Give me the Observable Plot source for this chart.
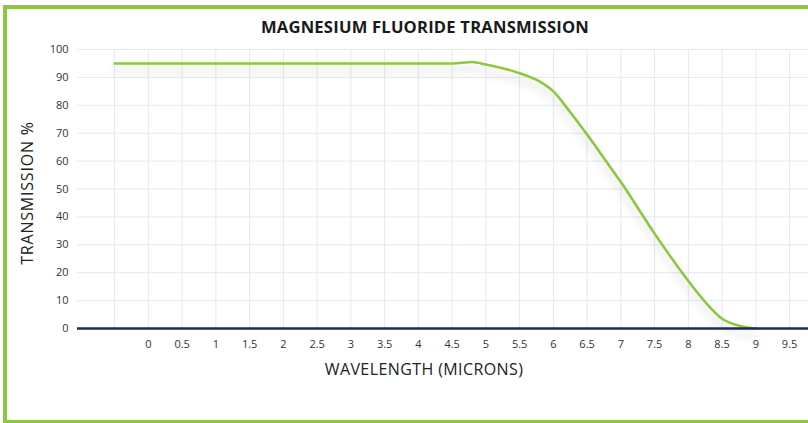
<!DOCTYPE html>
<html><head><meta charset="utf-8">
<script src="https://cdn.jsdelivr.net/npm/d3@7"></script>
<script src="https://cdn.jsdelivr.net/npm/@observablehq/plot@0.6"></script>
<style>
html,body{margin:0;padding:0;background:#fff;}
#wrap{position:relative;width:808px;height:423px;overflow:hidden;font-family:"Open Sans",sans-serif;background:#fff;}
#frame{position:absolute;left:3px;top:5px;width:840px;height:419px;border:4px solid #8dc63f;box-sizing:border-box;}
#plot{position:absolute;left:0;top:0;}
#title{position:absolute;left:0;width:850px;top:18px;text-align:center;font-weight:700;font-size:16.6px;line-height:18px;color:#1a1a1a;letter-spacing:0.2px;}
#xtitle{position:absolute;left:0;width:848px;top:360px;text-align:center;font-size:16px;line-height:18px;color:#222;letter-spacing:0.4px;}
#ytitle{position:absolute;left:-73px;width:200px;top:184px;text-align:center;font-size:16px;line-height:18px;color:#222;transform:rotate(-90deg);letter-spacing:0.8px;}
g[aria-label="line"] path{filter:drop-shadow(0px 7px 4px rgba(0,0,0,0.16));}
</style>
</head><body>
<div id="wrap">
  <div id="frame"></div>
  <div id="plot"></div>
  <div id="title">MAGNESIUM FLUORIDE TRANSMISSION</div>
  <div id="xtitle">WAVELENGTH (MICRONS)</div>
  <div id="ytitle">TRANSMISSION %</div>
</div>
<script>
// Data
const wavelength = [-0.5, 4.5, 4.8, 5.0, 5.5, 5.8, 6.0, 6.25, 6.5, 6.75, 7.0, 7.5, 8.0, 8.25, 8.5, 8.75, 9.0];
const transmission = [95, 95, 95.5, 94.6, 91.5, 88.5, 85, 77.5, 69.5, 61, 52.5, 34, 17, 9.5, 3.5, 1, 0];
const xTickValues = [0, 0.5, 1, 1.5, 2, 2.5, 3, 3.5, 4, 4.5, 5, 5.5, 6, 6.5, 7, 7.5, 8, 8.5, 9, 9.5];
const xGridValues = [-0.5, 0, 0.5, 1, 1.5, 2, 2.5, 3, 3.5, 4, 4.5, 5, 5.5, 6, 6.5, 7, 7.5, 8, 8.5, 9, 9.5];
const yTickValues = [0, 10, 20, 30, 40, 50, 60, 70, 80, 90, 100];
const yGridValues = [10, 20, 30, 40, 50, 60, 70, 80, 90, 100];

const data = wavelength.map((w, i) => ({w, t: transmission[i]}));

const chart = Plot.plot({
  width: 808,
  height: 423,
  marginLeft: 77,
  marginRight: 0,
  marginTop: 49,
  marginBottom: 95,
  style: {fontFamily: "'Open Sans', sans-serif", fontSize: "11px", color: "#333", background: "transparent", overflow: "visible"},
  x: {domain: [-1.05, 9.78], ticks: xTickValues, tickFormat: d => `${d}`, tickSize: 0, tickPadding: 12, label: null},
  y: {domain: [0, 100], ticks: yTickValues, tickFormat: d => `${d}`, tickSize: 0, tickPadding: 9, label: null},
  marks: [
    Plot.ruleY(yGridValues, {stroke: "#e4e8f0", strokeWidth: 1}),
    Plot.ruleX(xGridValues, {y1: 0, y2: 100, stroke: "#e4e8f0", strokeWidth: 1}),
    Plot.line(data, {x: "w", y: "t", stroke: "#8dc63f", strokeWidth: 2.6, curve: "monotone-x"}),
    Plot.ruleY([0], {stroke: "#1d2b5c", strokeWidth: 2.5})
  ]
});
document.getElementById("plot").appendChild(chart);
</script>
</body></html>
